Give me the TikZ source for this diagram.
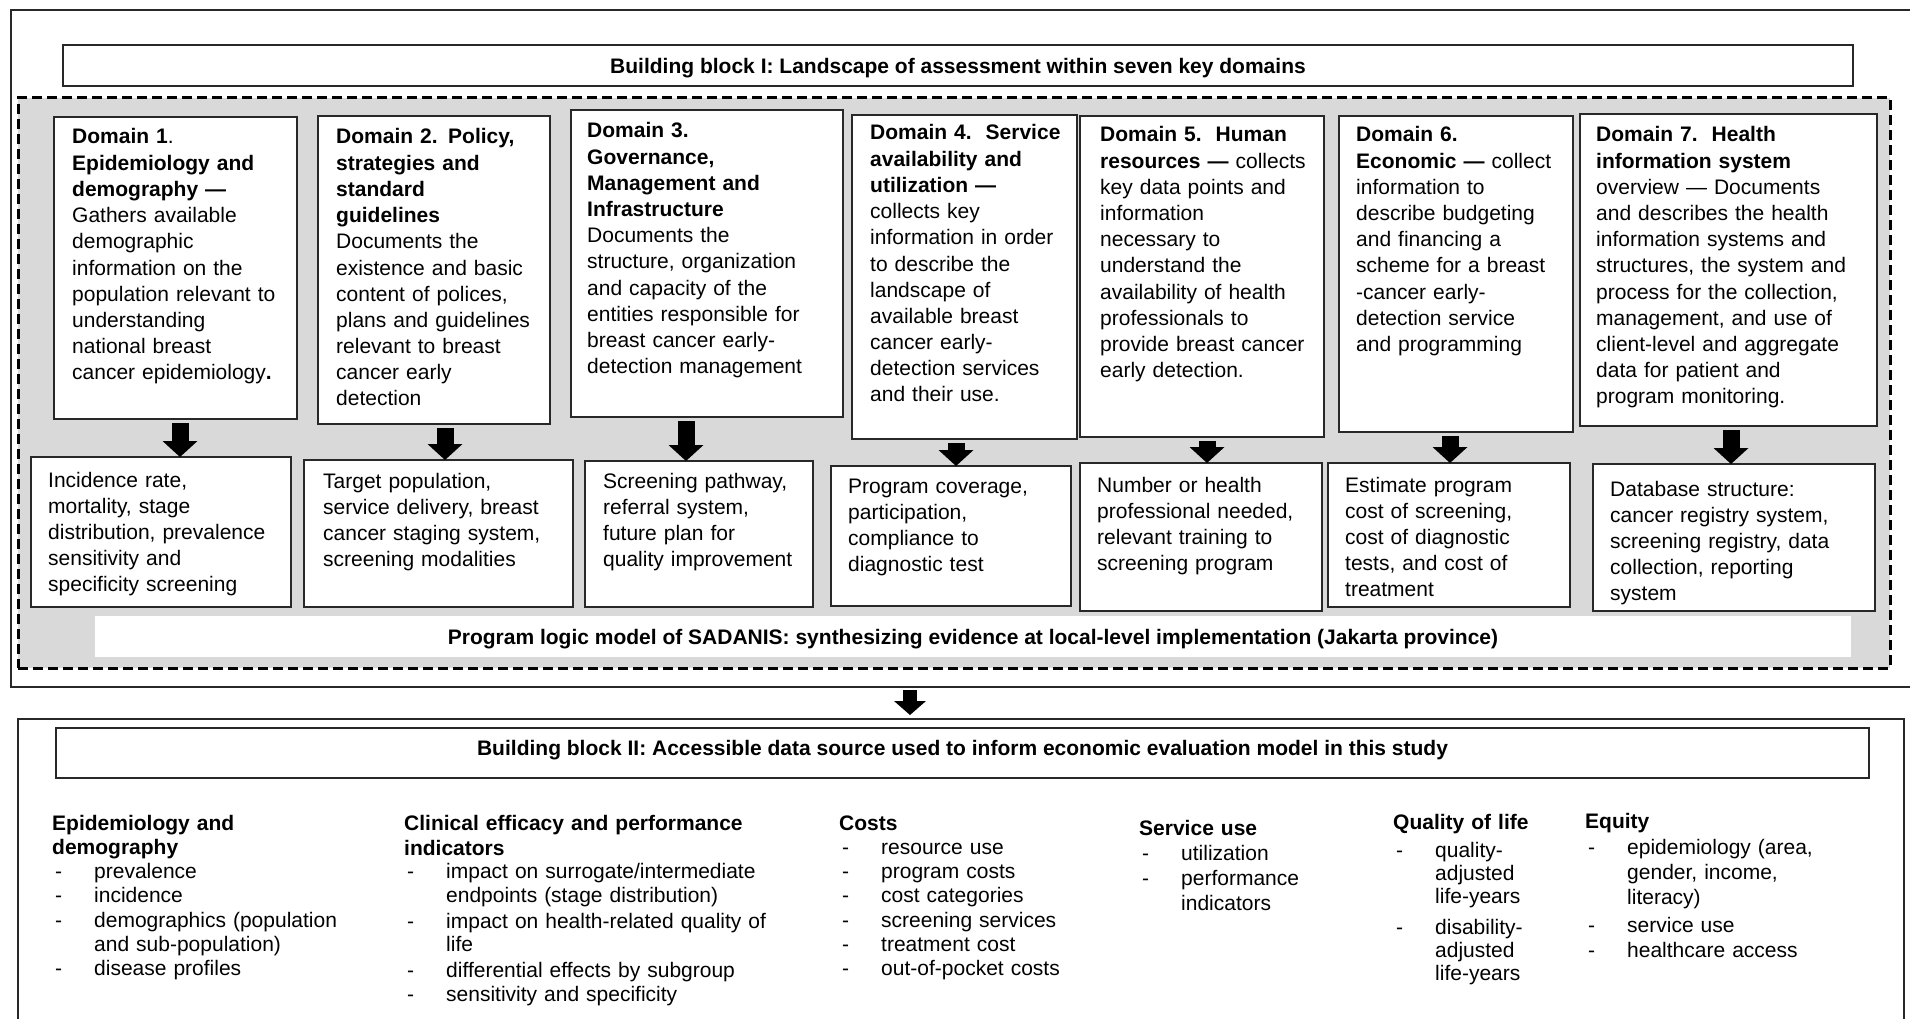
\documentclass[tikz,border=0pt]{standalone}
\usepackage{fontspec}
\setmainfont{Liberation Sans}
\usetikzlibrary{arrows.meta}
\definecolor{panelgray}{RGB}{217,217,217}
\definecolor{rulegray}{RGB}{40,40,40}
% list lines of the lower block: a dash then an indented entry
\newcommand\dashitem[1]{\makebox[42pt][l]{\hspace{3pt}-}#1}
\newcommand\contitem[1]{\hspace*{42pt}#1}
\begin{document}
\begin{tikzpicture}[x=1pt,y=-1pt,
  frame/.style={draw=rulegray, line width=1.6pt, inner sep=0pt, outer sep=0pt, anchor=north west},
  whitebox/.style={frame, fill=white},
  body/.style={anchor=base west, inner sep=0pt, text width=400pt, align=left,
    font=\fontsize{21}{26.2}\selectfont},
  listcol/.style={anchor=base west, inner sep=0pt, text width=400pt, align=left},
  titletext/.style={inner sep=0pt, font=\fontsize{21}{25}\selectfont\bfseries},
  downarrow/.style={line width=17pt, -{Triangle[width=35pt,length=16pt,line width=0pt]}, shorten <=4pt},
  linkarrow/.style={line width=14pt, -{Triangle[width=32pt,length=14pt,line width=0pt]}, shorten <=3pt, shorten >=4pt},
]
\useasboundingbox (0,0) rectangle (1910,1019);
\clip (0,0) rectangle (1910,1019);
\fill[white] (0,0) rectangle (1910,1019);

% ---------- building block I ----------
\node[frame, minimum width=1910pt, minimum height=677pt] (blockone) at (11,10) {};
\node[frame, minimum width=1790pt, minimum height=41pt] (titleone) at (63,45) {};
\node[titletext] (titleonetext) at ([yshift=-3pt]titleone.center) {Building block I: Landscape of assessment within seven key domains};

\node[draw=black, line width=3pt, dash pattern=on 10pt off 5pt, fill=panelgray,
  inner sep=0pt, outer sep=0pt, anchor=north west, minimum width=1872pt, minimum height=570pt] (panel) at (18,98) {};

% domain boxes
\node[whitebox, minimum width=243pt, minimum height=302pt] (d1) at (54,117) {};
\node[whitebox, minimum width=232pt, minimum height=308pt] (d2) at (318,116) {};
\node[whitebox, minimum width=272pt, minimum height=307pt] (d3) at (571,110) {};
\node[whitebox, minimum width=225pt, minimum height=324pt] (d4) at (852,115) {};
\node[whitebox, minimum width=244pt, minimum height=321pt] (d5) at (1080,116) {};
\node[whitebox, minimum width=234pt, minimum height=316pt] (d6) at (1339,116) {};
\node[whitebox, minimum width=297pt, minimum height=312pt] (d7) at (1580,114) {};

\node[body] (d1text) at (72,144) {\textbf{Domain 1}.\\
\textbf{Epidemiology and}\\
\textbf{demography —}\\
Gathers available\\
demographic\\
information on the\\
population relevant to\\
understanding\\
national breast\\
cancer epidemiology\textbf{.}};

\node[body] (d2text) at (336,144) {\textbf{Domain 2. Policy,}\\
\textbf{strategies and}\\
\textbf{standard}\\
\textbf{guidelines}\\
Documents the\\
existence and basic\\
content of polices,\\
plans and guidelines\\
relevant to breast\\
cancer early\\
detection};

\node[body] (d3text) at (587,138) {\textbf{Domain 3.}\\
\textbf{Governance,}\\
\textbf{Management and}\\
\textbf{Infrastructure}\\
Documents the\\
structure, organization\\
and capacity of the\\
entities responsible for\\
breast cancer early-\\
detection management};

\node[body] (d4text) at (870,140) {\textbf{Domain 4.\ \ Service}\\
\textbf{availability and}\\
\textbf{utilization —}\\
collects key\\
information in order\\
to describe the\\
landscape of\\
available breast\\
cancer early-\\
detection services\\
and their use.};

\node[body] (d5text) at (1100,142) {\textbf{Domain 5.\ \ Human}\\
\textbf{resources —} collects\\
key data points and\\
information\\
necessary to\\
understand the\\
availability of health\\
professionals to\\
provide breast cancer\\
early detection.};

\node[body] (d6text) at (1356,142) {\textbf{Domain 6.}\\
\textbf{Economic —} collect\\
information to\\
describe budgeting\\
and financing a\\
scheme for a breast\\
-cancer early-\\
detection service\\
and programming};

\node[body] (d7text) at (1596,142) {\textbf{Domain 7.\ \ Health}\\
\textbf{information system}\\
overview — Documents\\
and describes the health\\
information systems and\\
structures, the system and\\
process for the collection,\\
management, and use of\\
client-level and aggregate\\
data for patient and\\
program monitoring.};

% outcome boxes
\node[whitebox, minimum width=260pt, minimum height=150pt] (b1) at (31,457) {};
\node[whitebox, minimum width=269pt, minimum height=147pt] (b2) at (304,460) {};
\node[whitebox, minimum width=228pt, minimum height=146pt] (b3) at (585,461) {};
\node[whitebox, minimum width=240pt, minimum height=140pt] (b4) at (831,466) {};
\node[whitebox, minimum width=242pt, minimum height=148pt] (b5) at (1080,463) {};
\node[whitebox, minimum width=242pt, minimum height=144pt] (b6) at (1328,463) {};
\node[whitebox, minimum width=282pt, minimum height=147pt] (b7) at (1593,464) {};

\node[body] (b1text) at (48,487) {Incidence rate,\\ mortality, stage\\ distribution, prevalence\\ sensitivity and\\ specificity screening};
\node[body] (b2text) at (323,488) {Target population,\\ service delivery, breast\\ cancer staging system,\\ screening modalities};
\node[body] (b3text) at (603,488) {Screening pathway,\\ referral system,\\ future plan for\\ quality improvement};
\node[body] (b4text) at (848,493) {Program coverage,\\ participation,\\ compliance to\\ diagnostic test};
\node[body] (b5text) at (1097,492) {Number or health\\ professional needed,\\ relevant training to\\ screening program};
\node[body] (b6text) at (1345,492) {Estimate program\\ cost of screening,\\ cost of diagnostic\\ tests, and cost of\\ treatment};
\node[body] (b7text) at (1610,496) {Database structure:\\ cancer registry system,\\ screening registry, data\\ collection, reporting\\ system};

% domain to outcome arrows
\draw[downarrow] ([xshift=4.5pt]d1.south) -- ([xshift=4.5pt]d1.south |- b1.north);
\draw[downarrow] ([xshift=11pt]d2.south) -- ([xshift=11pt]d2.south |- b2.north);
\draw[downarrow] ([xshift=-21pt]d3.south) -- ([xshift=-21pt]d3.south |- b3.north);
\draw[downarrow] ([xshift=-8.5pt]d4.south) -- ([xshift=-8.5pt]d4.south |- b4.north);
\draw[downarrow] ([xshift=5pt]d5.south) -- ([xshift=5pt]d5.south |- b5.north);
\draw[downarrow] ([xshift=-6pt]d6.south) -- ([xshift=-6pt]d6.south |- b6.north);
\draw[downarrow] ([xshift=2.5pt]d7.south) -- ([xshift=2.5pt]d7.south |- b7.north);

\node[fill=white, inner sep=0pt, outer sep=0pt, anchor=north west, minimum width=1756pt, minimum height=41pt] (logic) at (95,616) {};
\node[titletext] (logictext) at ([yshift=-3pt]logic.center) {Program logic model of SADANIS: synthesizing evidence at local-level implementation (Jakarta province)};

% ---------- building block II ----------
\node[frame, minimum width=1886pt, minimum height=400pt] (blocktwo) at (18,719) {};
\draw[linkarrow] ([xshift=-56pt]blockone.south) -- ([xshift=-56pt]blockone.south |- blocktwo.north);

\node[frame, minimum width=1813pt, minimum height=50pt] (titletwo) at (56,728) {};
\node[titletext] (titletwotext) at ([yshift=3pt]titletwo.center) {Building block II: Accessible data source used to inform economic evaluation model in this study};

\node[listcol, font=\fontsize{21}{24.3}\selectfont] (col1) at (52,830) {\textbf{Epidemiology and}\\
\textbf{demography}\\
\dashitem{prevalence}\\
\dashitem{incidence}\\
\dashitem{demographics (population}\\
\contitem{and sub-population)}\\
\dashitem{disease profiles}};

\node[listcol, font=\fontsize{21}{23.5}\selectfont] (col2) at (404,830) {\textbf{Clinical efficacy and performance}\\[1.5pt]
\textbf{indicators}\\
\dashitem{impact on surrogate/intermediate}\\
\contitem{endpoints (stage distribution)}\\[2.5pt]
\dashitem{impact on health-related quality of}\\
\contitem{life}\\[2.5pt]
\dashitem{differential effects by subgroup}\\[0.5pt]
\dashitem{sensitivity and specificity}};

\node[listcol, font=\fontsize{21}{24.3}\selectfont] (col3) at (839,830) {\textbf{Costs}\\
\dashitem{resource use}\\
\dashitem{program costs}\\
\dashitem{cost categories}\\
\dashitem{screening services}\\
\dashitem{treatment cost}\\
\dashitem{out-of-pocket costs}};

\node[listcol, font=\fontsize{21}{25}\selectfont] (col4) at (1139,835) {\textbf{Service use}\\
\dashitem{utilization}\\
\dashitem{performance}\\
\contitem{indicators}};

\node[listcol, font=\fontsize{21}{23}\selectfont] (col5) at (1393,829) {\textbf{Quality of life}\\[5pt]
\dashitem{quality-}\\
\contitem{adjusted}\\
\contitem{life-years}\\[8pt]
\dashitem{disability-}\\
\contitem{adjusted}\\
\contitem{life-years}};

\node[listcol, font=\fontsize{21}{25}\selectfont] (col6) at (1585,828) {\textbf{Equity}\\[1pt]
\dashitem{epidemiology (area,}\\
\contitem{gender, income,}\\
\contitem{literacy)}\\[3pt]
\dashitem{service use}\\
\dashitem{healthcare access}};
\end{tikzpicture}
\end{document}
